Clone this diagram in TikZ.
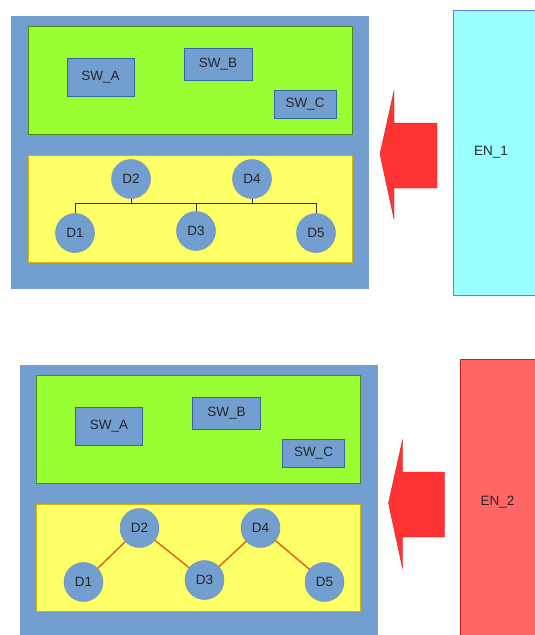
\documentclass[tikz,border=0pt]{standalone}
\usepackage{fontspec}
\setmainfont{Liberation Sans}
\usepackage{xcolor}
\usetikzlibrary{positioning}
\definecolor{hostBlue}{HTML}{729FCF}
\definecolor{edgeBlue}{HTML}{3465A4}
\definecolor{swGreen}{HTML}{99FF33}
\definecolor{swGreenDk}{HTML}{4E8A16}
\definecolor{devYellow}{HTML}{FFFF66}
\definecolor{devYellowDk}{HTML}{D4B200}
\definecolor{enCyan}{HTML}{99FFFF}
\definecolor{enCyanDk}{HTML}{6C7BE8}
\definecolor{enRed}{HTML}{FF6666}
\definecolor{enRedDk}{HTML}{C9211E}
\definecolor{pushRed}{HTML}{FF3333}
\definecolor{linkRed}{HTML}{E8501C}

\tikzset{
  lbl/.style={font=\fontsize{13.5}{16}\selectfont, text=black!85},
  swbox/.style={lbl, draw=edgeBlue, fill=hostBlue, line width=0.6pt, inner sep=0pt},
  dev/.style={lbl, circle, draw=edgeBlue!70, fill=hostBlue, line width=0.5pt,
              minimum size=39pt, inner sep=0pt},
  enbox/.style={rectangle, line width=0.8pt, minimum width=100pt,
                minimum height=285pt, anchor=north west},
  push/.style={fill=pushRed, draw=enRedDk, line width=0.4pt},
  bus/.style={draw=black!80, line width=0.8pt},
  link/.style={draw=linkRed, line width=1.3pt}
}

\begin{document}
\begin{tikzpicture}[x=1pt, y=-1pt]
  \useasboundingbox (0,0) rectangle (535,635);

  % first host, pushed by EN_1
  \fill[hostBlue] (11,16) rectangle (369,289);
  \filldraw[fill=swGreen, draw=swGreenDk, line width=0.6pt] (28,26) rectangle (352,134);
  \filldraw[fill=devYellow, draw=devYellowDk, line width=0.6pt] (28,155) rectangle (352,262);

  \node[swbox, minimum width=67pt, minimum height=38pt] (tSWA) at (100.5,77) {SW\_A};
  \node[swbox, minimum width=68pt, minimum height=32pt] (tSWB) at (218,64) {SW\_B};
  \node[swbox, minimum width=62pt, minimum height=28pt] (tSWC) at (305,104) {SW\_C};

  \node[dev] (tD2) at (131,179) {D2};
  \node[dev] (tD4) at (252,179) {D4};
  \node[dev] (tD1) at (75,233) {D1};
  \node[dev] (tD3) at (196,231) {D3};
  \node[dev] (tD5) at (316,233) {D5};

  \coordinate (tBus) at (0,203);
  \draw[bus] (tD1.north) -- (tD1 |- tBus) -- (tD5 |- tBus) -- (tD5.north);
  \draw[bus] (tD2.south) -- (tD2 |- tBus);
  \draw[bus] (tD4.south) -- (tD4 |- tBus);
  \draw[bus] (tD3.north) -- (tD3 |- tBus);

  \filldraw[push] (380,154) -- (394,91) -- (394,123) -- (437,123)
    -- (437,188) -- (394,188) -- (394,219) -- cycle;

  \node[enbox, fill=enCyan, draw=enCyanDk] (tEN) at (453,10) {};
  \node[lbl] (tENtext) at (491,152) {EN\_1};

  % second host, pushed by EN_2
  \begin{scope}[shift={(8.5,349)}]
    \fill[hostBlue] (11,16) rectangle (369,289);
    \filldraw[fill=swGreen, draw=swGreenDk, line width=0.6pt] (28,26) rectangle (352,134);
    \filldraw[fill=devYellow, draw=devYellowDk, line width=0.6pt] (28,155) rectangle (352,262);

    \node[swbox, minimum width=67pt, minimum height=38pt] (bSWA) at (100.5,77) {SW\_A};
    \node[swbox, minimum width=68pt, minimum height=32pt] (bSWB) at (218,64) {SW\_B};
    \node[swbox, minimum width=62pt, minimum height=28pt] (bSWC) at (305,104) {SW\_C};

    \node[dev] (bD2) at (131,179) {D2};
    \node[dev] (bD4) at (252,179) {D4};
    \node[dev] (bD1) at (75,233) {D1};
    \node[dev] (bD3) at (196,231) {D3};
    \node[dev] (bD5) at (316,233) {D5};

    \draw[link] (bD2) -- (bD1);
    \draw[link] (bD2) -- (bD3);
    \draw[link] (bD4) -- (bD3);
    \draw[link] (bD4) -- (bD5);

    \filldraw[push] (380,154) -- (394,91) -- (394,123) -- (436,123)
      -- (436,188) -- (394,188) -- (394,219) -- cycle;

    \node[enbox, fill=enRed, draw=enRedDk] (bEN) at (451.5,10) {};
    \node[lbl] (bENtext) at (489,153) {EN\_2};
  \end{scope}
\end{tikzpicture}
\end{document}
